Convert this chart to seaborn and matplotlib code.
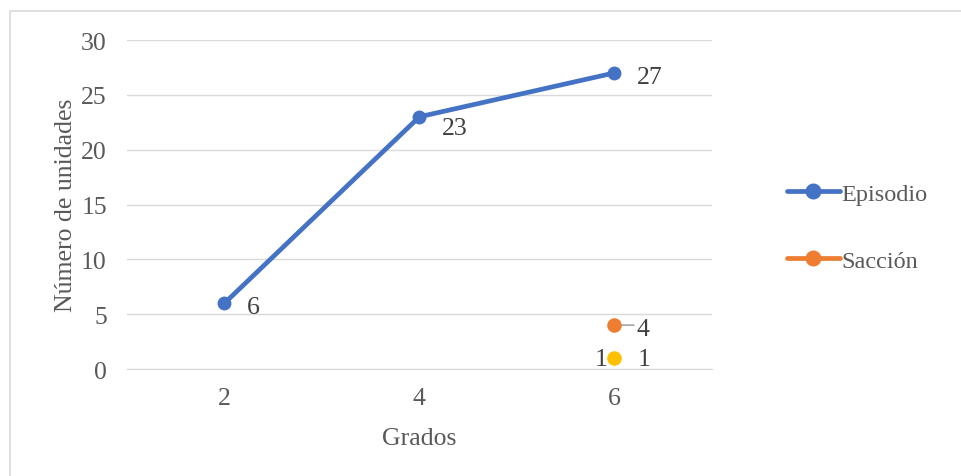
import matplotlib.pyplot as plt
import matplotlib.lines as mlines
import matplotlib.patches as mpatches
import numpy as np
import pandas as pd
import seaborn as sns

grados = ["2", "4", "6"]
episodio = [6, 23, 27]
saccion = [np.nan, np.nan, 4]
otro = [np.nan, np.nan, 1]
y_ticks = [0, 5, 10, 15, 20, 25, 30]

blue = "#4472C4"
orange = "#ED7D31"
yellow = "#FFC000"
txt = "#595959"
fs = 18.5

sns.set_style("white")
plt.rcParams["font.family"] = ["Liberation Serif", "DejaVu Serif"]

df = pd.DataFrame({"pos": np.arange(len(grados)), "Grados": grados,
                   "Episodio": episodio, "Sacción": saccion, "Otro": otro})

fig = plt.figure(figsize=(9.62, 4.77), dpi=100)
ax = fig.add_axes([0.132, 0.2243, 0.608, 0.6897])

sns.lineplot(data=df, x="pos", y="Episodio", color=blue, lw=3.4, marker="o",
             markersize=10, markeredgewidth=0, ax=ax)
sns.scatterplot(data=df, x="pos", y="Sacción", color=orange, s=110, linewidth=0, ax=ax, zorder=4)
sns.scatterplot(data=df, x="pos", y="Otro", color=yellow, s=110, linewidth=0, ax=ax, zorder=4)

# data labels
offs = [-3, -8, -3]
for i, v in enumerate(episodio):
    ax.annotate(str(v), (i, v), xytext=(16, offs[i]), textcoords="offset points",
                fontsize=fs, color="#404040", va="center", ha="left")
ax.annotate("", (2, saccion[2]), xytext=(2 + 0.1, saccion[2]),
            arrowprops=dict(arrowstyle="-", color="#A6A6A6", lw=1.2, shrinkA=0, shrinkB=5))
ax.annotate(str(saccion[2]), (2, saccion[2]), xytext=(16, -2.5), textcoords="offset points",
            fontsize=fs, color="#404040", va="center", ha="left")
ax.annotate(str(otro[2]), (2, otro[2]), xytext=(-5, -0.5), textcoords="offset points",
            fontsize=fs, color="#404040", va="center", ha="right")
ax.annotate(str(otro[2]), (2, otro[2]), xytext=(16.5, -0.5), textcoords="offset points",
            fontsize=fs, color="#404040", va="center", ha="left")

ax.set_xlim(-0.5, 2.5)
ax.set_ylim(0, 30)
ax.set_yticks(y_ticks)
ax.set_xticks(df["pos"], grados)
ax.grid(axis="y", color="#D9D9D9", lw=1)
ax.set_axisbelow(True)
for s in ["top", "right", "left"]:
    ax.spines[s].set_visible(False)
ax.spines["bottom"].set_color("#D9D9D9")
ax.tick_params(axis="both", length=0, labelsize=fs, labelcolor=txt)
ax.tick_params(axis="x", pad=13)
ax.tick_params(axis="y", pad=14.5)
ax.set_xlabel("Grados", fontsize=fs, color=txt, labelpad=13)
ax.set_ylabel("Número de unidades", fontsize=fs, color=txt, labelpad=3)

handles = [mlines.Line2D([], [], color=blue, lw=3.4, marker="o", markersize=10.5),
           mlines.Line2D([], [], color=orange, lw=3.4, marker="o", markersize=10.5)]
fig.legend(handles, ["Episodio", "Sacción"], loc="center left",
           bbox_to_anchor=(0.795, 0.521), frameon=False, fontsize=17.5,
           labelcolor=txt, handlelength=2.2, handletextpad=0.05, labelspacing=1.85)

# outer chart frame (cropped at right/bottom)
fig.patches.append(mpatches.Rectangle((10 / 962, -0.1), 1.2, 1 - 12 / 477 + 0.1,
                                      transform=fig.transFigure, fill=False,
                                      ec="#D9D9D9", lw=1.2))

fig.savefig("out.png", dpi=100)
